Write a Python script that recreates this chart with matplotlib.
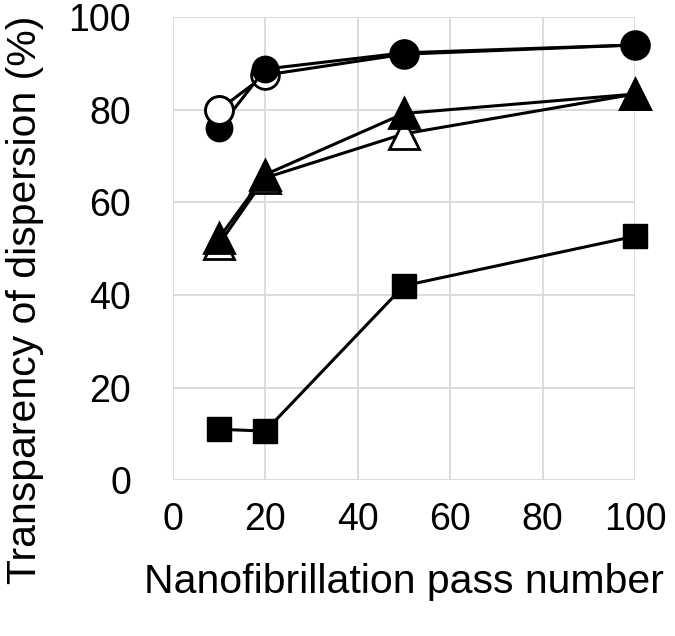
import matplotlib
matplotlib.use("Agg")
import matplotlib.pyplot as plt

plt.rcParams['font.family'] = ['Liberation Sans', 'DejaVu Sans']

# pass numbers
passes = [10, 20, 50, 100]

# transparency (%) per series
circle_open = [80, 87.5, 92, 94]
circle_filled = [76, 88.8, 92.3, 94]
tri_filled = [52.3, 66, 79.2, 83.4]
tri_open = [51, 65.3, 74.8, 83.4]
square_filled = [11, 10.6, 42, 52.7]

fig = plt.figure(figsize=(6.75, 6.36), dpi=100)
ax = fig.add_axes([0.256, 0.245, 0.685, 0.728])

lw = 2.2
kw = dict(color='black', lw=lw, mec='black', clip_on=False)
ax.plot(passes, circle_open, '-o', ms=20, mfc='white', mew=2, zorder=3, **kw)
ax.plot(passes, circle_filled, '-o', ms=18, mfc='black', mew=2, zorder=4, **kw)
# open circle at the first pass sits over the filled one in the original
ax.plot(passes[:1], circle_open[:1], 'o', ms=20, mfc='white', mew=2, zorder=5, **kw)
ax.plot(passes, tri_open, '-^', ms=21, mfc='white', mew=2, zorder=3, **kw)
ax.plot(passes, tri_filled, '-^', ms=21, mfc='black', mew=2, zorder=4, **kw)
ax.plot(passes, square_filled, '-s', ms=17, mfc='black', mew=1, zorder=3, **kw)

ax.set_xlim(0, 100)
ax.set_ylim(0, 100)
ax.set_xticks([0, 20, 40, 60, 80, 100])
ax.set_yticks([0, 20, 40, 60, 80, 100])
ax.grid(True, color='#d9d9d9', lw=1.3, zorder=0)
ax.set_axisbelow(True)
for s in ax.spines.values():
    s.set_visible(False)
ax.tick_params(length=0, labelsize=27)
ax.tick_params(axis='y', pad=30)
ax.tick_params(axis='x', pad=16)
ax.set_xlabel('Nanofibrillation pass number', fontsize=29.5, labelpad=18)
ax.set_ylabel('Transparency of dispersion (%)', fontsize=29.5, va='center')
ax.yaxis.set_label_coords(-0.32, 0.39)

fig.savefig('out.png', dpi=100)
